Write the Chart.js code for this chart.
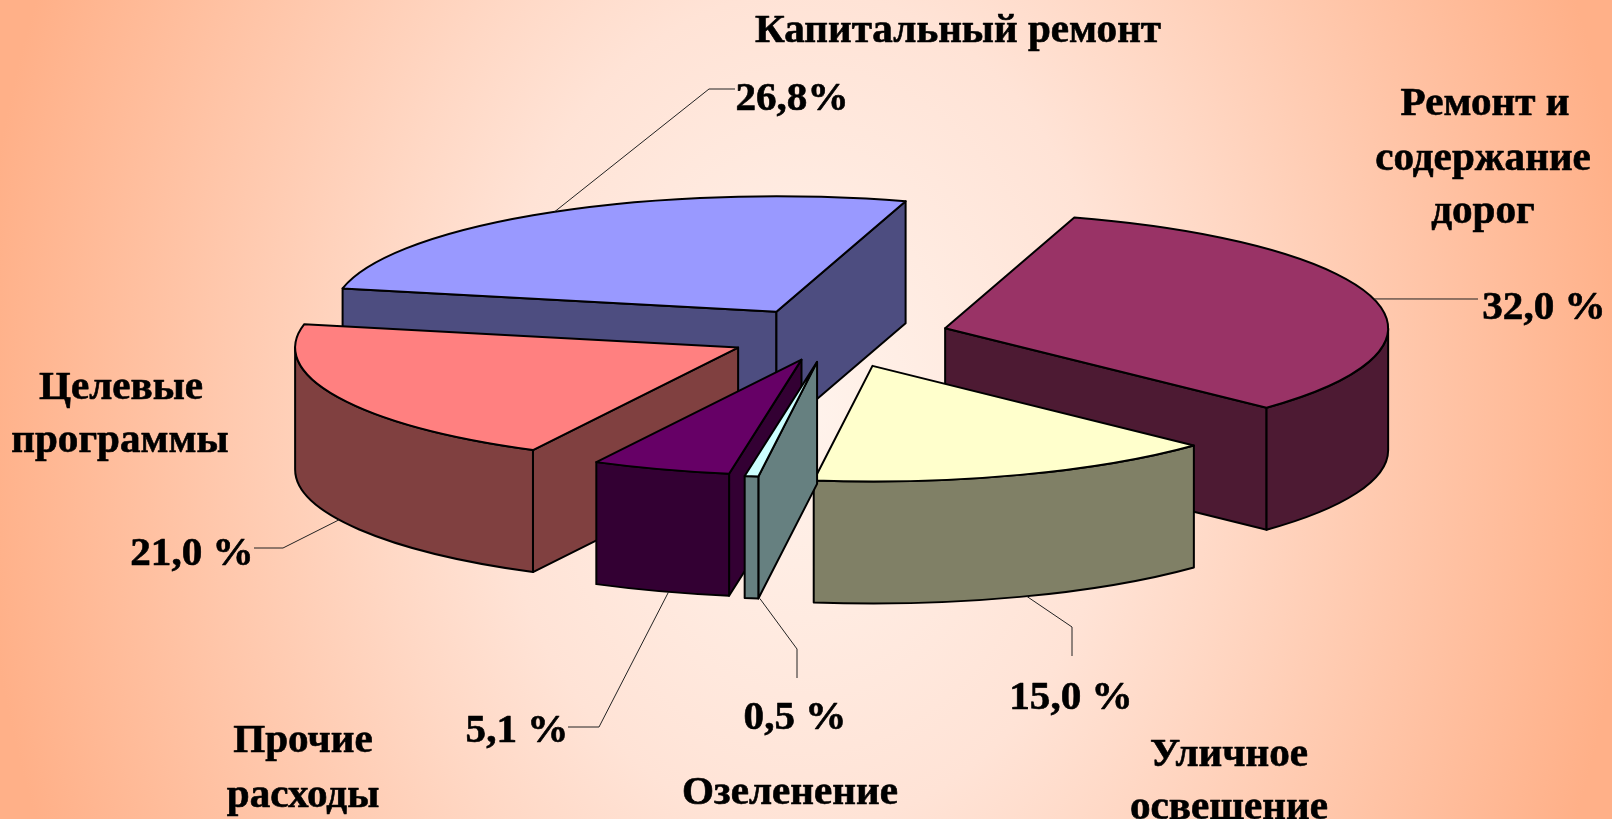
<!DOCTYPE html>
<html>
<head>
<meta charset="utf-8">
<title>Расходы</title>
<style>
    html, body { margin: 0; padding: 0; width: 1612px; height: 819px; overflow: hidden; }
    body { background: radial-gradient(ellipse 830px 1100px at 50% 50%, #fff3ec 0%, #ffe3d6 38%, #ffd8c5 52%, #ffb088 100%); }
    canvas { display: block; }
</style>
<script src="https://cdn.jsdelivr.net/npm/chart.js@4/dist/chart.umd.min.js"></script>
</head>
<body>
<canvas id="pieChart" width="1612" height="819"></canvas>
<script>
// slices go clockwise, starting from the road repairs one
var categories = ['Ремонт и содержание дорог', 'Уличное освещение', 'Озеленение', 'Прочие расходы', 'Целевые программы', 'Капитальный ремонт'];
var values = [32.0, 15.0, 0.5, 5.1, 21.0, 26.8];
var valueLabels = ['32,0 %', '15,0 %', '0,5 %', '5,1 %', '21,0 %', '26,8%'];
var topColors = ['#993366', '#ffffcc', '#ccffff', '#660066', '#ff8080', '#9999ff'];
var sideColors = ['#4d1a33', '#808066', '#668080', '#330033', '#804040', '#4d4d80'];
var explode = [119, 122, 100, 95, 102, 107];

// back slices first so the front ones paint over them
var drawOrder = [5, 0, 4, 1, 3, 2];

var TILT = 0.261;
var DEPTH = 122;
var PERSPECTIVE = 1.1 * Math.PI / 180;

// x, baseline y, text
var captions = [
    [958, 42, 'Капитальный ремонт'],
    [1485, 115, 'Ремонт и'],
    [1483, 170, 'содержание'],
    [1483, 223, 'дорог'],
    [121, 399, 'Целевые'],
    [120, 452, 'программы'],
    [303, 752, 'Прочие'],
    [303, 807, 'расходы'],
    [790, 804, 'Озеленение'],
    [1229, 766, 'Уличное'],
    [1229, 819, 'освещение']
];

// per slice: value label x, baseline y, then the leader line bends
var labelSpots = [
    { x: 1544, y: 319, bends: [[1478, 299]] },
    { x: 1071, y: 709, bends: [[1072, 627], [1072, 656]] },
    { x: 795, y: 729, bends: [[797, 649], [797, 678]] },
    { x: 517, y: 742, bends: [[599, 727], [568, 727]] },
    { x: 192, y: 565, bends: [[283, 548], [254, 548]] },
    { x: 792, y: 110, bends: [[709, 89], [735, 89]] }
];

// small angle shift, the 3d view pulls the back edges round a little
function warp(a) {
    return a + PERSPECTIVE * Math.sin(a);
}

function sliceShape(arc, index) {
    var mid = (arc.startAngle + arc.endAngle) / 2;
    return {
        a0: warp(arc.startAngle),
        a1: warp(arc.endAngle),
        mid: mid,
        cx: arc.x + Math.cos(mid) * explode[index],
        cy: arc.y + Math.sin(mid) * explode[index] * TILT,
        rx: arc.outerRadius,
        ry: arc.outerRadius * TILT
    };
}

function paint(ctx, fill) {
    ctx.closePath();
    ctx.fillStyle = fill;
    ctx.fill();
    ctx.stroke();
}

function drawWall(ctx, s, angle, fill) {
    var ex = s.cx + Math.cos(angle) * s.rx;
    var ey = s.cy + Math.sin(angle) * s.ry;
    ctx.beginPath();
    ctx.moveTo(s.cx, s.cy);
    ctx.lineTo(ex, ey);
    ctx.lineTo(ex, ey + DEPTH);
    ctx.lineTo(s.cx, s.cy + DEPTH);
    paint(ctx, fill);
}

function drawSlice(ctx, arc, index) {
    var s = sliceShape(arc, index);
    ctx.lineWidth = 2;
    ctx.lineJoin = 'round';
    ctx.strokeStyle = '#000';

    // radial walls, only when they look towards the viewer
    if (Math.sin(s.a0 - Math.PI / 2) > 0) drawWall(ctx, s, s.a0, sideColors[index]);
    if (Math.sin(s.a1 + Math.PI / 2) > 0) drawWall(ctx, s, s.a1, sideColors[index]);

    // rounded outer wall, front half only
    var from = Math.max(s.a0, 0);
    var to = Math.min(s.a1, Math.PI);
    if (to > from) {
        ctx.beginPath();
        ctx.ellipse(s.cx, s.cy, s.rx, s.ry, 0, from, to);
        ctx.ellipse(s.cx, s.cy + DEPTH, s.rx, s.ry, 0, to, from, true);
        paint(ctx, sideColors[index]);
    }

    // top face
    ctx.beginPath();
    ctx.moveTo(s.cx, s.cy);
    ctx.ellipse(s.cx, s.cy, s.rx, s.ry, 0, s.a0, s.a1);
    paint(ctx, topColors[index]);
}

function drawLeader(ctx, arc, index) {
    var s = sliceShape(arc, index);
    var x = s.cx + Math.cos(s.mid) * s.rx;
    var y = s.cy + Math.sin(s.mid) * s.ry;
    if (Math.sin(s.mid) > 0) y += DEPTH;
    ctx.beginPath();
    ctx.moveTo(x, y);
    labelSpots[index].bends.forEach(function (b) { ctx.lineTo(b[0], b[1]); });
    ctx.lineWidth = 1;
    ctx.strokeStyle = '#222';
    ctx.stroke();
}

// the original lettering is a bit wider than plain Times bold
function drawText(ctx, text, x, y) {
    ctx.save();
    ctx.translate(x, y);
    ctx.scale(1.055, 1);
    ctx.strokeText(text, 0, 0);
    ctx.fillText(text, 0, 0);
    ctx.restore();
}

var pie3d = {
    id: 'pie3d',
    beforeDatasetsDraw: function (chart) {
        var ctx = chart.ctx;
        var arcs = chart.getDatasetMeta(0).data;
        ctx.save();
        drawOrder.forEach(function (i) { drawSlice(ctx, arcs[i], i); });
        arcs.forEach(function (arc, i) { drawLeader(ctx, arc, i); });

        ctx.fillStyle = '#000';
        ctx.strokeStyle = '#000';
        ctx.lineWidth = 0.6;
        ctx.textAlign = 'center';
        ctx.textBaseline = 'alphabetic';
        ctx.font = 'bold 39px "Liberation Serif"';
        captions.forEach(function (c) { drawText(ctx, c[2], c[0], c[1]); });
        valueLabels.forEach(function (t, i) { drawText(ctx, t, labelSpots[i].x, labelSpots[i].y); });
        ctx.restore();
        return false;
    }
};

var ctx = document.getElementById('pieChart').getContext('2d');
var myChart = new Chart(ctx, {
    type: 'pie',
    data: {
        labels: categories,
        datasets: [{
            data: values,
            backgroundColor: topColors,
            borderColor: '#000'
        }]
    },
    options: {
        responsive: false,
        animation: false,
        rotation: 18,
        radius: 443,
        layout: { padding: { left: 48, bottom: 147 } },
        plugins: {
            legend: { display: false },
            tooltip: { enabled: false }
        }
    },
    plugins: [pie3d]
});
</script>
</body>
</html>
